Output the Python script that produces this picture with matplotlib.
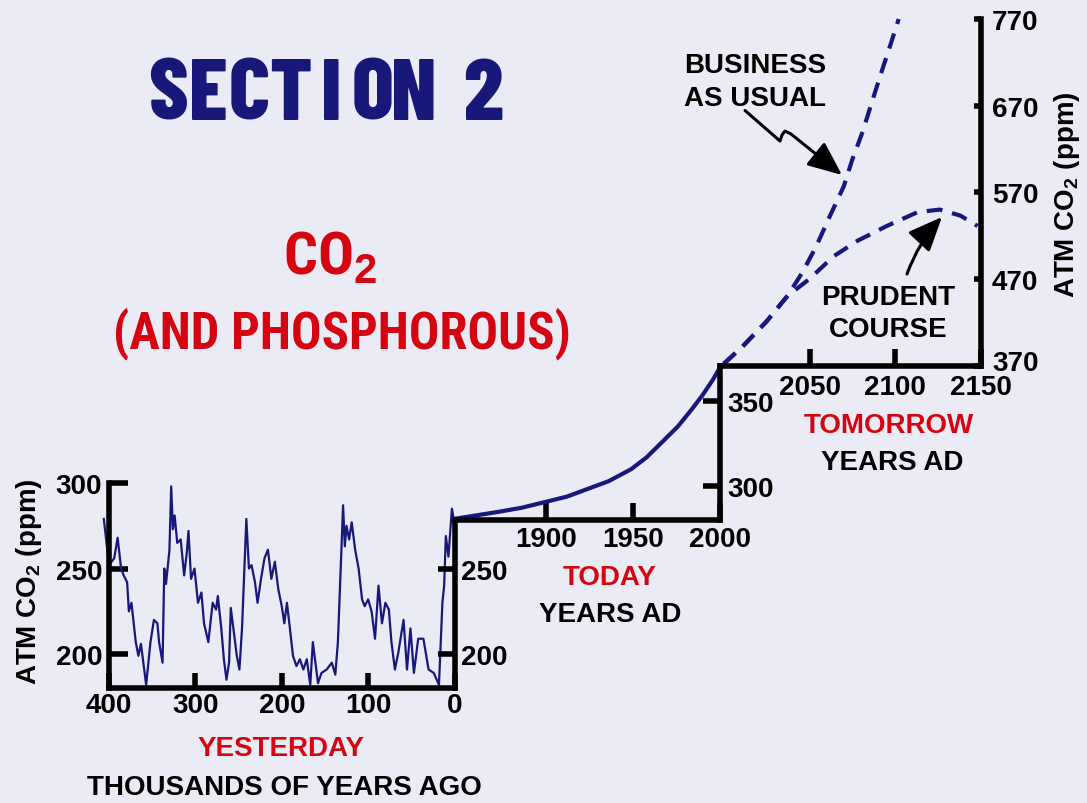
import matplotlib
matplotlib.use("Agg")
import matplotlib.pyplot as plt
from matplotlib import font_manager
from matplotlib.font_manager import FontProperties
from matplotlib.patches import FancyArrowPatch
from matplotlib.path import Path
from matplotlib.transforms import ScaledTranslation

# Vostok ice core CO2, thousands of years ago
yesterday_kyr = [406, 400, 394, 390, 386, 383, 379, 377, 374, 369,
                 366, 363, 357, 352, 348, 344, 342, 338, 336, 334,
                 330, 328, 326, 324, 321, 317, 313, 310, 308, 305,
                 301, 297, 293, 290, 285, 280, 276, 274, 270, 267,
                 264, 261, 259, 255, 252, 249, 246, 241, 238, 235,
                 231, 228, 224, 220, 216, 212, 208, 204, 200, 197,
                 194, 191, 187, 183, 179, 175, 171, 167, 164, 158,
                 154, 148, 142, 138, 135, 131, 129, 127, 125, 122,
                 119, 115, 111, 107, 104, 100, 96, 92, 88, 84,
                 80, 76, 73, 69, 65, 59, 55, 51, 47, 42,
                 36, 30, 24, 18, 14, 12, 10, 7, 3, 1]
yesterday_ppm = [279, 252, 256, 268, 250, 246, 242, 225, 230, 207,
                 199, 206, 182, 207, 220, 218, 207, 195, 250, 241,
                 261, 298, 273, 281, 265, 267, 246, 259, 272, 244,
                 250, 230, 236, 218, 207, 230, 226, 234, 215, 197,
                 185, 195, 227, 211, 199, 191, 215, 279, 250, 252,
                 242, 230, 244, 256, 261, 244, 254, 238, 228, 218,
                 230, 217, 199, 193, 197, 191, 197, 182, 207, 183,
                 189, 191, 195, 188, 207, 260, 287, 263, 275, 267,
                 277, 261, 250, 232, 228, 232, 225, 209, 240, 218,
                 230, 226, 207, 191, 201, 220, 191, 215, 189, 209,
                 209, 191, 189, 182, 230, 240, 269, 257, 285, 279]

# industrial era
today_year = [1847, 1872, 1886, 1900, 1912, 1924, 1936, 1949, 1958, 1966,
              1976, 1984, 1990, 1996, 2000]
today_ppm = [281, 285, 287.5, 291, 294, 298.5, 303, 310, 317, 325,
             335, 345, 353, 362, 369]

# projections
bau_year = [2000, 2011, 2025, 2037, 2046, 2054, 2062, 2070, 2075, 2081, 2087, 2092, 2097, 2102]
bau_ppm = [372, 392, 421, 450, 478, 508, 543, 577, 608, 640, 678, 709, 739, 770]
prudent_year = [2000, 2011, 2025, 2037, 2050, 2064, 2078, 2095, 2113, 2126, 2138, 2148]
prudent_ppm = [372, 392, 421, 450, 470, 496, 514, 531, 547, 550, 543, 531]

W, H = 1087, 804
BG = "#ebebf6"
NAVY = "#18187a"
RED = "#d40510"
LW = 4

plt.rcParams["font.family"] = ["Liberation Sans", "DejaVu Sans"]
plt.rcParams["font.weight"] = "bold"
plt.rcParams["mathtext.fontset"] = "custom"
for k in ("rm", "it", "bf", "sf"):
    plt.rcParams["mathtext." + k] = "Liberation Sans:bold"

names = {f.name for f in font_manager.fontManager.ttflist}
HEAD = "Roboto Condensed" if "Roboto Condensed" in names else "Liberation Sans"
if "Barlow Condensed" in names:
    title_font = FontProperties(family="Barlow Condensed", weight=800, size=63)
else:
    title_font = FontProperties(family=HEAD, weight="bold", size=54)


def head_font(size):
    return FontProperties(family=HEAD, weight="bold", size=size)


fig = plt.figure(figsize=(W / 100, H / 100), dpi=100, facecolor=BG)


def box(x0, y0, x1, y1):
    return [x0 / W, 1 - y1 / H, (x1 - x0) / W, (y1 - y0) / H]


def fpx(x, y):
    return (x / W, 1 - y / H)


def txt(x, y, s, **kw):
    kw.setdefault("ha", "center")
    kw.setdefault("va", "baseline")
    if "fontproperties" not in kw:
        kw.setdefault("fontsize", 20)
    fig.text(x / W, 1 - y / H, s, **kw)


def frame(ax, show):
    ax.patch.set_visible(False)
    for name, sp in ax.spines.items():
        sp.set_linewidth(LW)
        sp.set_visible(name in show)
    ax.tick_params(direction="in", width=LW, labelsize=20, color="black")


# yesterday
ax1 = fig.add_axes(box(109, 484, 454.5, 689))
frame(ax1, ("left", "bottom"))
ax1.plot(yesterday_kyr, yesterday_ppm, color=NAVY, lw=1.6, clip_on=False)
ax1.set_xlim(400, 0)
ax1.set_ylim(180.2, 300)
ax1.set_xticks([400, 300, 200, 100, 0])
ax1.set_yticks([200, 250, 300])
ax1.tick_params(axis="x", length=11, pad=3)
ax1.tick_params(axis="y", length=13.5, pad=5)

ax1r = ax1.twinx()
frame(ax1r, ("right",))
ax1r.set_ylim(180.2, 300)
ax1r.spines["right"].set_bounds(180.2, 278.2)
ax1r.set_yticks([200, 250])
ax1r.tick_params(axis="y", length=12, pad=5)

# today
ax2 = fig.add_axes(box(454.5, 366.5, 719.5, 521))
frame(ax2, ("right", "bottom"))
ax2.plot(today_year, today_ppm, color=NAVY, lw=3, clip_on=False,
         solid_joinstyle="round")
ax2.set_xlim(1847, 2000)
ax2.set_ylim(280.3, 370.6)
ax2.yaxis.tick_right()
ax2.set_xticks([1900, 1950, 2000])
ax2.set_yticks([300, 350])
ax2.tick_params(axis="x", length=12, pad=4.5)
ax2.tick_params(axis="y", length=12, pad=6)

# tomorrow
ax3 = fig.add_axes(box(719.5, 20, 981, 366.5))
frame(ax3, ("right", "bottom"))
dash = (0, (3.8, 2.4))
ax3.plot(bau_year, bau_ppm, color=NAVY, lw=3, ls=dash, clip_on=False)
ax3.plot(prudent_year, prudent_ppm, color=NAVY, lw=3, ls=dash, clip_on=False)
ax3.set_xlim(1997.5, 2150)
ax3.set_ylim(370, 770)
ax3.yaxis.tick_right()
ax3.set_xticks([2050, 2100, 2150])
ax3.set_yticks([370, 470, 570, 670, 770])
ax3.tick_params(axis="x", length=12, pad=6)
ax3.tick_params(axis="y", length=5, pad=8)
# lift the corner "370" clear of "2150"
low = ax3.yaxis.get_major_ticks()[0].label2
low.set_transform(low.get_transform() + ScaledTranslation(0, 4 / 72, fig.dpi_scale_trans))

# axis titles
fig.text(29 / W, 1 - 582 / H, "ATM CO$_2$ (ppm)", rotation=90, ha="center", va="center", fontsize=20)
fig.text(1067 / W, 1 - 195 / H, "ATM CO$_2$ (ppm)", rotation=90, ha="center", va="center", fontsize=20)

txt(281, 756, "YESTERDAY", color=RED)
txt(284, 795, "THOUSANDS OF YEARS AGO")
txt(609.5, 585, "TODAY", color=RED)
txt(610, 621.7, "YEARS AD")
txt(889, 433.3, "TOMORROW", color=RED)
txt(892.5, 470, "YEARS AD")

txt(755, 73.3, "BUSINESS")
txt(755, 105.7, "AS USUAL")
txt(888.5, 305, "PRUDENT")
txt(888, 336.7, "COURSE")

# headings
for i, ch in enumerate("SECTION"):
    txt(167.5 + i * 41, 120, ch, color=NAVY, fontproperties=title_font)
txt(482.5, 120, "2", color=NAVY, fontproperties=title_font)
txt(330, 275, "CO$_2$", color=RED, fontproperties=head_font(43))
txt(342, 348, "(AND PHOSPHOROUS)", color=RED, fontproperties=head_font(36.5))

# pointer arrows
zig = [(745, 111.5), (780, 142), (782, 136), (785, 132), (791, 135), (842, 176)]
path = Path([fpx(*p) for p in zig], [Path.MOVETO] + [Path.LINETO] * (len(zig) - 1))
head = "-|>,head_length=1.4,head_width=0.6"
fig.add_artist(FancyArrowPatch(path=path, transform=fig.transFigure,
                               arrowstyle=head, mutation_scale=15, lw=2.2,
                               color="black", joinstyle="round"))
fig.add_artist(FancyArrowPatch(posA=fpx(907, 275), posB=fpx(942, 218),
                               transform=fig.transFigure,
                               connectionstyle="arc3,rad=-0.1",
                               arrowstyle=head, mutation_scale=15, lw=2.2,
                               color="black", shrinkA=0, shrinkB=0))

fig.savefig("out.png", dpi=100, facecolor=BG)
